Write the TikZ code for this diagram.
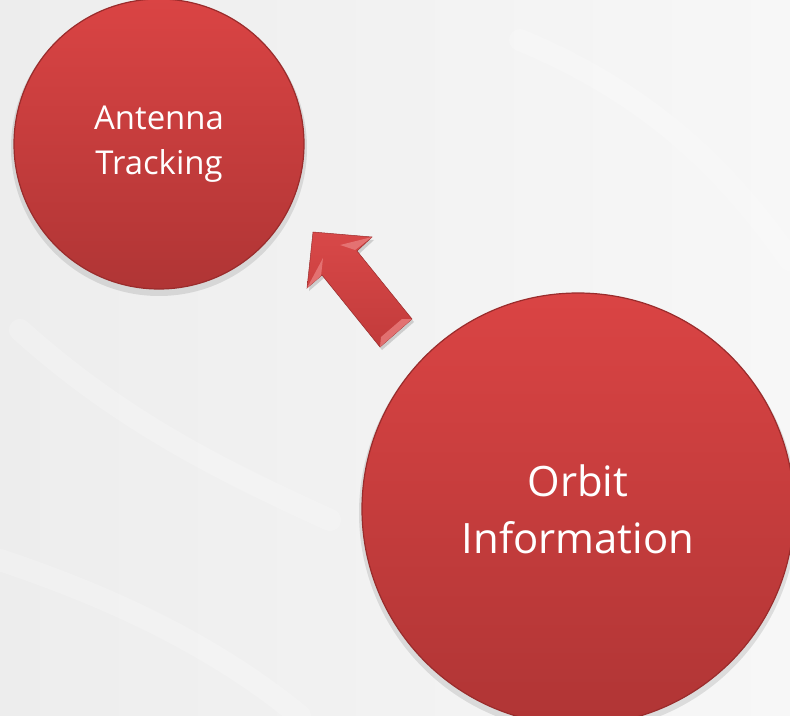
\documentclass[tikz,border=0pt]{standalone}
\usepackage{fontspec}
\setmainfont{Open Sans}
\usetikzlibrary{calc}
\definecolor{bgA}{HTML}{EDEDED}
\definecolor{bgB}{HTML}{F7F7F7}
\definecolor{redTop}{HTML}{DA4444}
\definecolor{redBot}{HTML}{B03535}
\definecolor{redEdge}{HTML}{9A2C2C}
\definecolor{arrA}{HTML}{D84848}
\definecolor{arrB}{HTML}{C23B3B}
\definecolor{arrLight}{HTML}{E77A7A}
\tikzset{
  ball/.style={circle, inner sep=0pt, top color=redTop, bottom color=redBot,
    draw=redEdge, line width=1.2bp, text=white, align=center},
  shadowring/.style={fill=black, opacity=0.10},
  facet/.style={fill=arrLight, opacity=0.85},
  swoosh/.style={white, opacity=0.2, line width=22bp, line cap=round}
}
\begin{document}
\begin{tikzpicture}[x=1bp,y=-1bp]
\useasboundingbox (0,0) rectangle (790,716);
\clip (0,0) rectangle (790,716);
\shade[left color=bgA, right color=bgB] (0,0) rectangle (790,716);
% faint background swooshes
\draw[swoosh] (520,40) .. controls (640,90) and (720,160) .. (790,260);
\draw[swoosh] (20,330) .. controls (120,420) and (220,470) .. (330,520);
\draw[swoosh] (0,560) .. controls (120,600) and (220,650) .. (300,716);
% shadows
\fill[shadowring] (159,148) circle (148);
\fill[shadowring] (578,513) circle (219);
% circles
\node[ball, minimum size=290bp, font=\fontsize{33}{45}\selectfont] (ant) at (159,144) {Antenna\\Tracking};
\node[ball, minimum size=432bp, font=\fontsize{42}{57}\selectfont] (orb) at (578,509) {Orbit\\Information};
% block arrow from orb towards ant
\coordinate (T) at (313,232);
\coordinate (W1) at (372,237);
\coordinate (S1) at (357,251);
\coordinate (E1) at (412,319);
\coordinate (E2) at (380,347);
\coordinate (S2) at (322,275);
\coordinate (W2) at (307,288);
\fill[black, opacity=0.15] ($(T)+(2,3)$) -- ($(W1)+(2,3)$) -- ($(S1)+(2,3)$) -- ($(E1)+(2,3)$) -- ($(E2)+(2,3)$) -- ($(S2)+(2,3)$) -- ($(W2)+(2,3)$) -- cycle;
\shade[top color=arrA, bottom color=arrB, draw=redEdge, line width=0.5bp] (T) -- (W1) -- (S1) -- (E1) -- (E2) -- (S2) -- (W2) -- cycle;
\fill[facet] (340,245) -- (W1) -- (355,250) -- cycle;
\fill[facet] (323,258) -- (W2) -- (321,276) -- cycle;
\fill[facet] (E1) -- (E2) -- (381,337) -- (402,319) -- cycle;
\end{tikzpicture}
\end{document}
